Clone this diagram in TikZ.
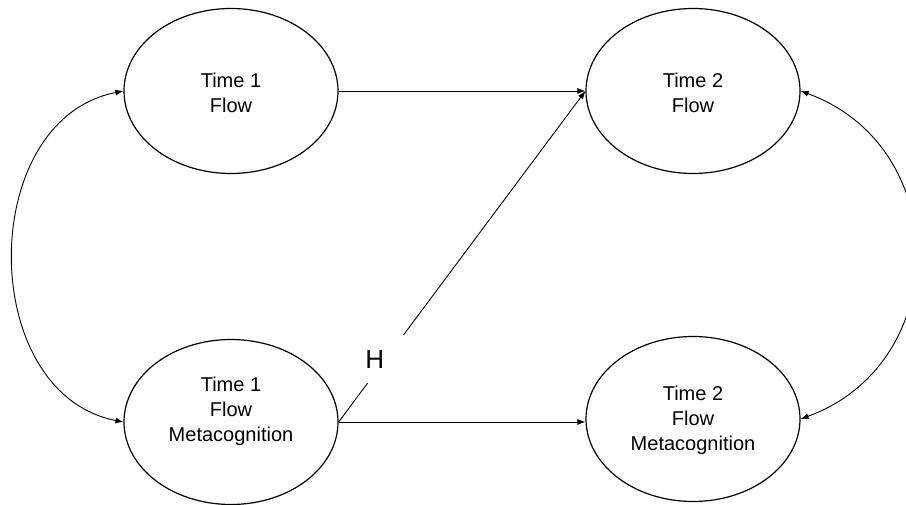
\documentclass[tikz,border=0pt]{standalone}
\usepackage{fontspec}
\setmainfont{Liberation Sans}
\usetikzlibrary{shapes.geometric,arrows.meta}
\begin{document}
\begin{tikzpicture}[x=1pt,y=1pt,
  construct/.style={ellipse, draw, line width=1.2pt, minimum width=214pt,
    minimum height=165pt, inner sep=0pt},
  caption/.style={align=center, inner sep=0pt, font=\fontsize{20}{25}\selectfont},
  link/.style={line width=0.9pt, -{Latex[length=8pt,width=6pt]}},
  corr/.style={line width=0.9pt, {Latex[length=8pt,width=6pt]}-{Latex[length=8pt,width=6pt]}},
  hlabel/.style={fill=white, minimum width=76pt, minimum height=48pt,
    inner sep=0pt, font=\fontsize{26}{30}\selectfont}
]
\useasboundingbox (0,0) rectangle (906,-505);

% constructs
\node[construct] (t1f)  at (231,-91)  {};
\node[construct] (t2f)  at (693,-91)  {};
\node[construct] (t1fm) at (231,-422) {};
\node[construct] (t2fm) at (693,-419) {};

\node[caption] (t1f-text)  at (231,-92.5) {Time 1\\Flow};
\node[caption] (t2f-text)  at (693,-92.5) {Time 2\\Flow};
\node[caption] (t1fm-text) at (231,-411)  {Time 1\\Flow\\Metacognition};
\node[caption] (t2fm-text) at (693,-420)  {Time 2\\Flow\\Metacognition};

% regression paths
\draw[link] (t1f.east) -- (t2f.west);
\draw[link] (t1fm.east) -- (t1fm.east -| t2fm.west);
\draw[link] (t1fm.east) -- (t2f.west)
  node[hlabel, pos=0.19, xshift=-10.7pt] (h) {H};

% correlations within each time point
\draw[corr] (t1f.west) to[out=191, in=169, looseness=1.16] (t1fm.west);
\draw[corr] (t2f.east) to[out=-20, in=20, looseness=1.27] (t2fm.east);
\end{tikzpicture}
\end{document}
